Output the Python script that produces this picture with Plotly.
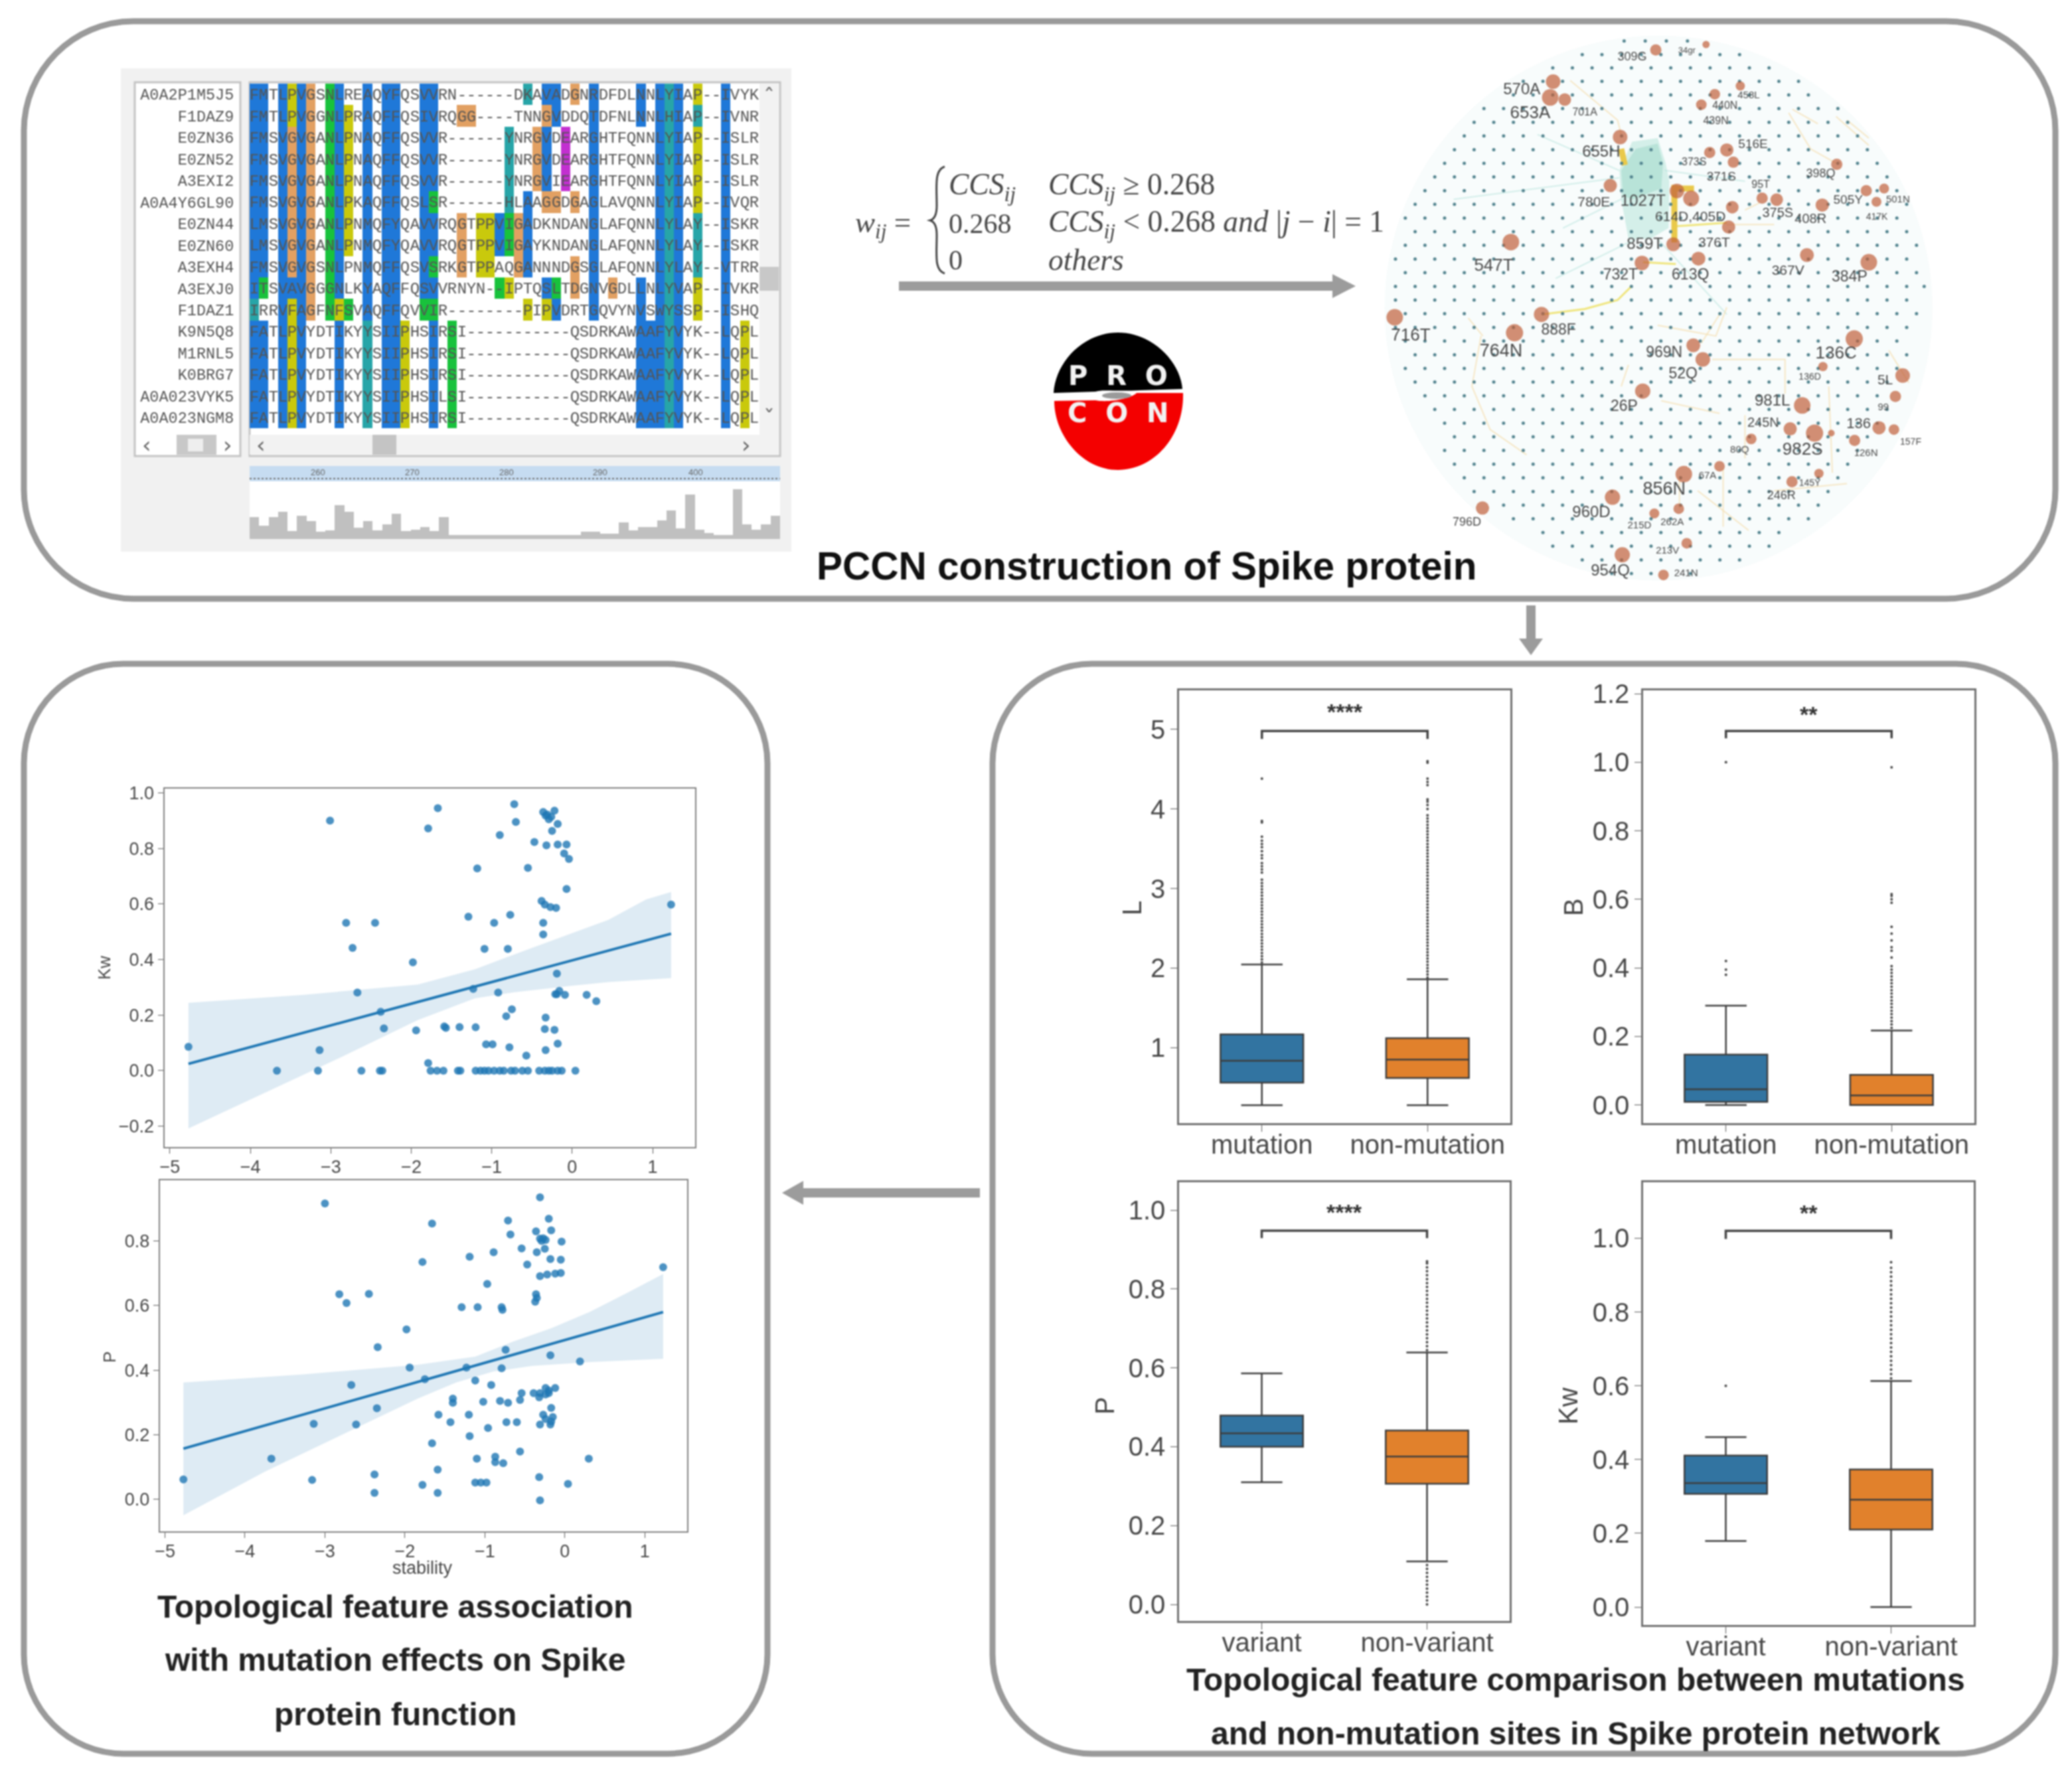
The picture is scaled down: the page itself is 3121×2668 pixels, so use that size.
import plotly.graph_objects as go

W, H = 3121, 2668
SANS = "Liberation Sans"
MONO = "Liberation Mono"
SERIF = "Liberation Serif"
INK = "#474747"

# ---------- regression scatter data ----------
kw_x = [-3.01,-1.67,-1.79,-.72,-.70,-.90,-.47,-.36,-.31,-.22,-.26,-.29,-.33,-.18,-.25,-.32,-.18,-.07,-.10,-.04,-1.18,-.55,-.07,-.38,-.34,-.27,-.20,1.23,-.77,-1.29,-2.81,-2.45,-.97,-.36,-.36,-2.73,-1.09,-.80,-1.98,-.19,-1.23,-2.67,-.92,-.19,-.16,-.09,-.21,.18,.30,-.75,-.82,-2.38,-.33,-2.34,-1.94,-1.59,-1.57,-1.40,-1.20,-.34,-.22,-1.07,-.99,-.78,-.18,-.33,-.57,-4.77,-3.14,-1.79,
        -3.67,-3.16,-2.62,-2.39,-2.36,-1.76,-1.68,-1.60,-1.42,-1.39,-1.20,-1.14,-1.09,-1.04,-.97,-.90,-.85,-.76,-.71,-.62,-.55,-.41,-.34,-.29,-.25,-.18,-.13,.04]
kw_y = [.90,.945,.872,.959,.895,.848,.823,.931,.922,.936,.914,.905,.918,.888,.863,.811,.814,.814,.782,.762,.728,.73,.654,.611,.598,.589,.586,.598,.561,.554,.532,.532,.532,.532,.49,.442,.438,.438,.39,.349,.294,.281,.281,.275,.287,.273,.275,.273,.25,.221,.196,.212,.191,.152,.145,.159,.154,.157,.156,.15,.147,.095,.095,.084,.097,.074,.054,.086,.074,.027,
        0,0,0,0,0,0,0,0,0,0,0,0,0,0,0,0,0,0,0,0,0,0,0,0,0,0,0,0]
kw_line_x = [-4.77, 1.23]
kw_line_y = [.0247, .493]
kw_up_x = [-4.77,-3.34,-1.92,-1.21,-.50,.45,.92,1.23]
kw_up_y = [.244,.273,.31,.365,.442,.543,.616,.643]
kw_lo_x = [-4.77,-3.82,-2.87,-1.92,-1.21,-.73,-.02,.45,1.23]
kw_lo_y = [-.208,-.079,.049,.182,.26,.282,.305,.319,.333]

p_x = [-3.0,-.31,-1.66,-.71,-.20,-.68,-.36,-.17,-.31,-.27,-.24,-.29,-.04,-.54,-.25,-.35,-.89,-1.19,-1.78,-.18,-.05,-.47,1.23,-.31,-.22,-.12,-.05,-.97,-2.82,-2.45,-2.73,-.36,-.35,-.37,-1.29,-1.09,-.79,-.78,-1.98,-2.34,-.74,-.18,.19,-1.94,-1.23,-.79,-1.75,-1.12,-2.67,-.92,-.24,-.12,-.2,-.39,-.31,-.24,-.32,-.2,-.54,-.56,-1.40,-1.40,-1.02,-.81,-.71,-.17,-2.35,-1.58,-1.20,-.27,-.15,-.24,-.17,-1.43,-.73,-.60,-.31,-.18,-3.14,-2.61,-.96,-1.19,-1.66,-.56,-1.10,-.87,-.87,-.77,-3.67,.30,-1.59,-2.38,-.32,-4.77,-3.16,-1.78,-1.12,-1.05,-.98,.04,-2.38,-1.59,-.31]
p_y = [.916,.935,.854,.863,.869,.82,.83,.833,.807,.808,.803,.80,.798,.777,.776,.765,.765,.751,.735,.744,.742,.727,.719,.691,.696,.699,.701,.667,.635,.636,.608,.635,.624,.612,.595,.595,.595,.587,.526,.471,.463,.446,.427,.408,.408,.406,.372,.368,.354,.354,.345,.345,.337,.329,.329,.325,.316,.329,.329,.308,.312,.299,.302,.305,.299,.283,.282,.262,.262,.262,.255,.249,.241,.239,.239,.239,.232,.232,.234,.232,.221,.196,.174,.148,.126,.132,.115,.112,.126,.126,.092,.077,.069,.062,.06,.045,.052,.052,.052,.048,.02,.02,-.003]
p_line_x = [-4.77, 1.23]
p_line_y = [.157, .58]
p_up_x = [-4.77,-3.27,-1.84,-1.12,-.65,-.17,.31,.78,1.23]
p_up_y = [.362,.387,.417,.442,.488,.53,.58,.639,.698]
p_lo_x = [-4.77,-3.75,-2.79,-1.84,-1.36,-.89,-.41,.31,1.23]
p_lo_y = [-.049,.086,.199,.312,.362,.396,.413,.425,.435]
stability_ticks = [-5,-4,-3,-2,-1,0,1]

# ---------- box data ----------
mut_cats = ["mutation", "non-mutation"]
var_cats = ["variant", "non-variant"]
L_stats = dict(q1=[.56,.62], med=[.836,.85], q3=[1.168,1.12], lo=[.277,.277], hi=[2.046,1.86])
B_stats = dict(q1=[.009,0.0], med=[.046,.028], q3=[.147,.088], lo=[0.0,0.0], hi=[.29,.217])
P_stats = dict(q1=[.40,.306], med=[.434,.375], q3=[.479,.441], lo=[.31,.109], hi=[.586,.639])
K_stats = dict(q1=[.307,.21], med=[.336,.291], q3=[.411,.373], lo=[.179,0.0], hi=[.461,.613])
L_fl_mut = [2.07,2.11,2.15,2.19,2.23,2.27,2.31,2.35,2.39,2.43,2.47,2.51,2.55,2.59,2.63,2.67,2.71,2.75,2.79,2.83,2.87,2.91,2.95,2.99,3.03,3.07,3.11,3.2,3.24,3.28,3.32,3.38,3.42,3.47,3.52,3.56,3.6,3.65,3.83,3.85,4.38]
L_fl_non = [1.88,1.92,1.96,2.0,2.04,2.08,2.12,2.16,2.2,2.24,2.28,2.32,2.36,2.4,2.44,2.48,2.52,2.56,2.6,2.64,2.68,2.72,2.76,2.8,2.84,2.88,2.92,2.96,3.0,3.04,3.08,3.12,3.16,3.2,3.24,3.28,3.32,3.36,3.4,3.44,3.48,3.52,3.56,3.6,3.64,3.68,3.72,3.76,3.8,3.84,3.88,3.92,4.0,4.05,4.09,4.12,4.3,4.34,4.38,4.58,4.6]
B_fl_mut = [.38,.395,.42,1.0]
B_fl_non = [.225,.235,.245,.255,.265,.275,.285,.295,.305,.315,.325,.335,.345,.355,.365,.375,.385,.395,.405,.43,.45,.46,.48,.5,.52,.59,.6,.61,.615,.985]
P_fl_non = [.645,.655,.665,.675,.685,.695,.705,.715,.725,.735,.745,.755,.765,.775,.785,.795,.805,.815,.825,.835,.845,.855,.865,.87,.10,.09,.08,.07,.06,.05,.04,.03,.02,.01,.0]
K_fl_mut = [.6]
K_fl_non = [.62,.632,.644,.656,.668,.68,.692,.704,.716,.728,.74,.752,.764,.776,.788,.8,.812,.824,.836,.848,.86,.872,.884,.896,.908,.92,.935]

# ---------- alignment data ----------
msa_names = ["A0A2P1M5J5","F1DAZ9","E0ZN36","E0ZN52","A3EXI2","A0A4Y6GL90","E0ZN44","E0ZN60","A3EXH4","A3EXJ0","F1DAZ1","K9N5Q8","M1RNL5","K0BRG7","A0A023VYK5","A0A023NGM8"]
msa_seqs = [
"FMTLPVGSNLREAQYFQSVVRN------DKAVADGNRDFDLNNLYIAP--IVYK",
"FMTLPVGGNLPRAQFFQSIVRQGG----TNNGVDDQTDFNLNNLHIAP--IVNR",
"FMSVGVGANLPNAQFFQSVVR------YNRGVDEARGHTFQNNLYIAP--ISLR",
"FMSVGVGANLPNAQFFQSVVR------YNRGVDEARGHTFQNNLYIAP--ISLR",
"FMSVGVGANLPNAQFFQSVVR------YNRGVIEARGHTFQNNLYIAP--ISLR",
"FMSVGVGANLPKAQFFQSLSR------HLAAGGDGAGLAVQNNLYIAP--IVQR",
"LMSVGVGANLPNMQFYQAVVRQGTPPVIGADKNDANGLAFQNNLYLAY--ISKR",
"LMSVGVGANLPNMQFYQAVVRQGTPPVIGAYKNDANGLAFQNNLYLAY--ISKR",
"FMSVGVGSNLPNMQFFQSVSRKGTPPAQGANNNDGSGLAFQNNLYLAY--VTRR",
"ITSVAVGGGNLKYAQFFQSVVRNYN--IPTQSLTDGNVGDLLNLYVAP--IVKR",
"IRRVFAGFNFSVAQFFQVVIR--------PIPVDRTGQVYNVSWYSSP--ISHQ",
"FATLPVYDTIKYYSIIPHSIRSI-----------QSDRKAWAAFYVYK--LQPL",
"FATLPVYDTIKYYSIIPHSIRSI-----------QSDRKAWAAFYVYK--LQPL",
"FATLPVYDTIKYYSIIPHSIRSI-----------QSDRKAWAAFYVYK--LQPL",
"FATLPVYDTIKYYSIIPHSILSI-----------QSDRKAWAAFYVYK--LQPL",
"FATLPVYDTIKYYSIIPHSIRSI-----------QSDRKAWAAFYVYK--LQPL"]
# residue colour classes: 1 blue, 2 orange, 3 yellow, 4 green, 5 teal, 6 magenta
msa_blue = [[0,1,3,5,9,12,14,15,18,19,31,32,36,41,43,45,50],[0,1,3,5,9,12,14,15,18,19,32,36,41,43,45,50],
 [0,1,3,5,9,12,14,15,18,19,31,36,43,45,50],[0,1,3,5,9,12,14,15,18,19,31,36,43,45,50],[0,1,3,5,9,12,14,15,18,19,31,36,43,45,50],
 [0,1,3,5,9,12,14,15,18,29,36,43,45,50],[0,1,3,5,9,12,14,15,18,19,26,29,36,43,45,50],[0,1,3,5,9,12,14,15,18,19,26,29,36,43,45,50],
 [0,1,3,5,9,12,14,15,18,29,36,43,45,50],[0,3,4,5,9,12,14,15,18,19,31,36,41,43,45,50],[3,5,12,14,15,32,36,41,43,45,50],
 [0,1,3,5,9,14,15,19,41,42,43,45,50],[0,1,3,5,9,14,15,19,41,42,43,45,50],[0,1,3,5,9,14,15,19,41,42,43,45,50],[0,1,3,5,9,14,15,19,41,42,43,45,50],[0,1,3,5,9,14,15,19,41,42,43,45,50]]
msa_orange = [[6,34],[6,22,23,31],[4,6,30],[4,6,30],[4,6,30],[4,6,31,32,34],[4,6,22,28],[4,6,22,28],[4,6,22,28,34],[6,34,38],[6],[],[],[],[],[]]
msa_yellow = [[4,47],[4,10],[10,47],[10,47],[10,47],[10,47],[10,24,25],[10,24,25],[24,25],[27,47],[4,9,29,31,47],[4,16,52],[4,16,52],[4,16,52],[4,16,52],[4,16,52]]
msa_green = [[8],[8],[8],[8],[8],[8,19],[8,27],[8,27],[8,19],[1,8,26,32],[8,10,18,19],[21],[21],[21],[21],[21]]
msa_teal = [[29,44],[44,47],[27,44],[27,44],[27,44],[27,44],[44,47],[44,47],[44,47],[44],[0,44],[12,44],[12,44],[12,44],[12,44],[12,44]]
msa_magenta = [[],[],[33],[33],[33],[],[],[],[],[],[],[],[],[],[],[]]
msa_palette = ["#ffffff","#1f78d8","#e2a062","#c9c90c","#18c23c","#27a5a8","#c22fd0"]
ruler_labels = ["260","270","280","290","400"]
conservation = [50,25,50,65,10,55,40,8,12,85,65,20,40,12,30,60,10,15,22,10,50,0,0,0,0,0,0,0,0,0,0,0,0,0,0,8,8,3,3,35,12,22,22,42,70,18,115,15,5,0,0,130,30,15,30,55]

# ---------- network data (layout units) ----------
hub_x = [755,893,473,465,505,987,917,880,657,903,950,968,1252,630,813,852,965,955,1047,1087,1212,1333,1382,1361,803,872,717,357,1170,1340,38,441,367,858,884,1300,1214,1433,1413,719,1157,1124,1191,1017,1368,1409,1301,1237,930,832,1203,1129,636,279,818,751,840,663,776]
hub_y = [65,50,153,197,203,165,188,217,307,350,343,377,383,442,457,478,502,557,477,481,496,456,450,487,605,645,657,599,635,655,808,800,851,886,925,868,945,970,1028,1013,1053,1118,1130,1146,1115,1120,1150,1130,1222,1244,1242,1265,1308,1338,1340,1353,1436,1468,1524]
hub_size = [17,11,22,25,19,14,16,16,22,17,20,17,17,20,22,24,19,20,17,19,20,17,15,15,21,21,22,25,21,25,25,23,26,21,22,26,14,22,17,23,25,20,26,16,20,16,17,10,16,25,14,17,23,20,16,15,16,23,16]
lab_text = ["309G","34gr","570A","653A","701A","458L","440N","439N","655H","516E","373S","371S","398Q","780E","1027T","614D,405D","95T","375S","408R","505Y","501N","417K","859T","376T","613Q","732T","547T","367V","384P","716T","888F","764N","969N","52Q","136C","136D","5L","99","26P","981L","245N","982S","80Q","136","157F","126N","67A","856N","145Y","246R","960D","796D","262A","215D","213V","954Q","241N"]
lab_x = [690,840,387,410,560,1010,945,920,605,1022,860,935,1208,585,720,850,1043,1090,1180,1283,1420,1362,725,915,850,658,310,1118,1287,82,488,330,778,830,1250,1178,1385,1380,668,1075,1050,1158,985,1312,1455,1332,897,778,1178,1100,578,236,800,710,787,630,838]
lab_y = [85,68,177,243,240,193,222,263,350,328,378,420,410,490,487,530,440,520,537,483,481,530,607,603,692,692,667,680,697,860,845,905,908,968,910,975,985,1060,1057,1043,1103,1178,1177,1106,1155,1187,1250,1288,1270,1305,1352,1378,1378,1387,1457,1515,1520]
lab_size = [18,13,24,26,16,15,16,16,24,19,16,19,18,21,24,21,16,20,20,19,15,14,24,21,23,23,26,21,23,26,23,27,23,23,26,14,21,15,23,24,20,26,15,22,14,15,15,27,14,18,24,18,15,15,15,24,15]
dot_rows = {
40:[668,726,784,842],
78:[553,607,661,715,769,823,877,931,985],
115:[472,526,580,634,688,742,796,850,904,958,1012,1066],
152:[391,445,499,553,607,661,715,769,823,877,931,985,1039,1093,1147],
190:[364,418,472,526,580,634,688,742,796,850,904,958,1012,1066,1120,1174],
228:[283,337,391,445,499,553,607,661,715,769,823,877,931,985,1039,1093,1147,1201,1255],
266:[256,310,364,418,472,526,580,634,688,742,796,850,904,958,1012,1066,1120,1174,1228,1282],
304:[229,283,337,391,445,499,553,607,661,715,769,823,877,931,985,1039,1093,1147,1201,1255,1309],
342:[202,256,310,364,418,472,526,580,634,688,742,796,850,904,958,1012,1066,1120,1174,1228,1282,1336],
380:[175,229,283,337,391,445,499,553,607,661,715,769,823,877,931,985,1039,1093,1147,1201,1255,1309,1363],
418:[148,202,256,310,364,418,472,526,580,634,688,742,796,850,904,958,1012,1066,1120,1174,1228,1282,1336,1390],
456:[121,175,229,283,337,391,445,499,553,607,661,715,769,823,877,931,985,1039,1093,1147,1201,1255,1309,1363,1417],
494:[94,148,202,256,310,364,418,472,526,580,634,688,742,796,850,904,958,1012,1066,1120,1174,1228,1282,1336,1390,1444],
532:[67,121,175,229,283,337,391,445,499,553,607,661,715,769,823,877,931,985,1039,1093,1147,1201,1255,1309,1363,1417],
570:[94,148,202,256,310,364,418,472,526,580,634,688,742,796,850,904,958,1012,1066,1120,1174,1228,1282,1336,1390,1444],
608:[67,121,175,229,283,337,391,445,499,553,607,661,715,769,823,877,931,985,1039,1093,1147,1201,1255,1309,1363,1417,1471],
646:[40,94,148,202,256,310,364,418,472,526,580,634,688,742,796,850,904,958,1012,1066,1120,1174,1228,1282,1336,1390,1444],
684:[67,121,175,229,283,337,391,445,499,553,607,661,715,769,823,877,931,985,1039,1093,1147,1201,1255,1309,1363,1417,1471],
722:[40,94,148,202,256,310,364,418,472,526,580,634,688,742,796,850,904,958,1012,1066,1120,1174,1228,1282,1336,1390,1444,1492],
760:[40,94,148,202,256,310,364,418,472,526,580,634,688,742,796,850,904,958,1012,1066,1120,1174,1228,1282,1336,1390,1444],
798:[67,121,175,229,283,337,391,445,499,553,607,661,715,769,823,877,931,985,1039,1093,1147,1201,1255,1309,1363,1417,1471],
836:[40,94,148,202,256,310,364,418,472,526,580,634,688,742,796,850,904,958,1012,1066,1120,1174,1228,1282,1336,1390,1444],
874:[67,121,175,229,283,337,391,445,499,553,607,661,715,769,823,877,931,985,1039,1093,1147,1201,1255,1309,1363,1417],
912:[94,148,202,256,310,364,418,472,526,580,634,688,742,796,850,904,958,1012,1066,1120,1174,1228,1282,1336,1390,1444],
950:[67,121,175,229,283,337,391,445,499,553,607,661,715,769,823,877,931,985,1039,1093,1147,1201,1255,1309,1363,1417],
988:[94,148,202,256,310,364,418,472,526,580,634,688,742,796,850,904,958,1012,1066,1120,1174,1228,1282,1336,1390],
1026:[121,175,229,283,337,391,445,499,553,607,661,715,769,823,877,931,985,1039,1093,1147,1201,1255,1309,1363],
1064:[148,202,256,310,364,418,472,526,580,634,688,742,796,850,904,958,1012,1066,1120,1174,1228,1282,1336,1390],
1102:[175,229,283,337,391,445,499,553,607,661,715,769,823,877,931,985,1039,1093,1147,1201,1255,1309,1363],
1140:[202,256,310,364,418,472,526,580,634,688,742,796,850,904,958,1012,1066,1120,1174,1228,1282,1336],
1178:[175,229,283,337,391,445,499,553,607,661,715,769,823,877,931,985,1039,1093,1147,1201,1255,1309],
1216:[202,256,310,364,418,472,526,580,634,688,742,796,850,904,958,1012,1066,1120,1174,1228,1282],
1254:[229,283,337,391,445,499,553,607,661,715,769,823,877,931,985,1039,1093,1147,1201,1255],
1292:[256,310,364,418,472,526,580,634,688,742,796,850,904,958,1012,1066,1120,1174,1228],
1330:[337,391,445,499,553,607,661,715,769,823,877,931,985,1039,1093,1147,1201],
1368:[364,418,472,526,580,634,688,742,796,850,904,958,1012,1066,1120,1174],
1406:[445,499,553,607,661,715,769,823,877,931,985,1039,1093],
1444:[472,526,580,634,688,742,796,850,904,958,1012,1066],
1482:[553,607,661,715,769,823,877,931,985],
1520:[634,688,742,850],
}
edge_pale_x = [520,650,660,None,1120,1180,1250,None,1250,1340,None,930,880,None,910,1110,1110,None,275,250,300,400,None,680,660,None,770,930,None,1000,1000,None,940,940,None,820,820,None,1230,1240,None,240,280,None,950,1080,None,1000,1040,None,1130,1200,None,1280,1340,None,870,1010,None,1080,1280,None,760,920,950,None,1395,1450]
edge_pale_y = [150,260,300,None,240,340,380,None,250,330,None,800,880,None,925,925,1020,None,860,1000,1120,1190,None,940,1000,None,1040,1075,None,1080,1200,None,1230,1390,None,1340,1250,None,1000,1240,None,810,860,None,550,550,None,510,490,None,230,270,None,260,310,None,1290,1400,None,1290,1270,None,830,860,780,None,900,990]
edge_teal_x = [655,430,None,655,200,None,660,500,None,700,480,None,780,1000,None,760,950]
edge_teal_y = [400,300,None,420,480,None,480,560,None,590,700,None,400,430,None,590,800]
edge_gold_x = [441,560,650,690,None,720,810,None,810,950]
edge_gold_y = [800,785,760,720,None,655,660,None,555,545]
blob_x = [655,690,760,782,792,790,740,680,660,655]
blob_y = [400,320,310,380,430,560,590,590,480,400]
blob_core_x = [660,700,760,775,770,690,665,660]
blob_core_y = [400,340,325,380,450,480,470,400]
thick_x = [806,806,None,660,670,None,800,860]
thick_y = [440,600,None,340,385,None,450,450]


def fx(x): return x / W
def fy(y): return 1 - y / H
def dom_x(a, b): return [a / W, b / W]
def dom_y(a, b): return [1 - b / H, 1 - a / H]

shapes, annots = [], []


def path_shape(cmds, fill=None, line=None, lw=0, layer="below"):
    out = []
    for c in cmds:
        if isinstance(c, str):
            out.append(c)
        else:
            out.append(f"{fx(c[0]):.5f},{fy(c[1]):.5f}")
    s = dict(type="path", xref="paper", yref="paper", path=" ".join(out), layer=layer,
             line=dict(width=lw, color=line or "rgba(0,0,0,0)"))
    if fill:
        s["fillcolor"] = fill
    shapes.append(s)


def rrect(x0, y0, x1, y1, r, line, lw, fill=None, layer="below"):
    k = r * 0.45
    path_shape(["M", (x0 + r, y0), "L", (x1 - r, y0), "C", (x1 - k, y0), (x1, y0 + k), (x1, y0 + r),
                "L", (x1, y1 - r), "C", (x1, y1 - k), (x1 - k, y1), (x1 - r, y1),
                "L", (x0 + r, y1), "C", (x0 + k, y1), (x0, y1 - k), (x0, y1 - r),
                "L", (x0, y0 + r), "C", (x0, y0 + k), (x0 + k, y0), (x0 + r, y0), "Z"], fill=fill, line=line, lw=lw, layer=layer)


def rect(x0, y0, x1, y1, fill, line=None, lw=0, layer="below"):
    shapes.append(dict(type="rect", xref="paper", yref="paper", x0=fx(x0), x1=fx(x1), y0=fy(y0), y1=fy(y1),
                       fillcolor=fill, line=dict(width=lw, color=line or "rgba(0,0,0,0)"), layer=layer))


def poly(pts, fill):
    cmds = ["M", pts[0]]
    for p in pts[1:]:
        cmds += ["L", p]
    path_shape(cmds + ["Z"], fill=fill)


def text(t, x, y, size, color=INK, anchor="center", angle=0, family=SANS):
    annots.append(dict(text=t, x=fx(x), y=fy(y), xref="paper", yref="paper", xanchor=anchor, yanchor="middle",
                       showarrow=False, textangle=angle, font=dict(size=size, color=color, family=family)))


fig = go.Figure()
FRAME = "#9a9a9a"
ARROW = "#9c9c9c"

# panel frames
rrect(36, 32, 3096, 902, 165, FRAME, 9)
rrect(36, 1000, 1156, 2642, 150, FRAME, 9)
rrect(1495, 1000, 3096, 2642, 150, FRAME, 9)

# arrows
poly([(1354, 424), (2007, 424), (2007, 413), (2042, 431), (2007, 449), (2007, 438), (1354, 438)], ARROW)
poly([(2299, 912), (2313, 912), (2313, 962), (2324, 962), (2306, 987), (2288, 962), (2299, 962)], ARROW)
poly([(1476, 1790), (1476, 1804), (1210, 1804), (1210, 1815), (1178, 1797), (1210, 1779), (1210, 1790)], ARROW)

# alignment window furniture
rect(182, 103, 1192, 831, "#f1f1f1")
rect(203, 124, 362, 687, "#ffffff", "#c4c4c4", 3)
rect(376, 124, 1175, 687, "#ffffff", "#c4c4c4", 3)
rect(376, 655, 1173, 685, "#f2f2f2")
rect(1144, 126, 1173, 655, "#f2f2f2")
rect(561, 655, 597, 685, "#c4c4c4")
rect(1144, 402, 1173, 438, "#c8c8c8")
rect(266, 655, 326, 685, "#c8c8c8")
rect(283, 661, 306, 680, "#eeeeee")
rect(376, 702, 1175, 725, "#c6dcf1")
rect(376, 725, 1175, 812, "#ffffff")
shapes.append(dict(type="line", xref="paper", yref="paper", x0=fx(376), x1=fx(1175), y0=fy(721), y1=fy(721),
                   line=dict(color="#707070", width=2, dash="dot"), layer="below"))
for lab, px_ in zip(ruler_labels, [479, 621, 763, 904, 1048]):
    text(lab, px_, 711, 13, "#666666")
for ch, px_, py_ in [("‹", 221, 670), ("›", 343, 670), ("‹", 393, 670), ("›", 1124, 670), ("ˆ", 1158, 146), ("ˇ", 1158, 630)]:
    text(ch, px_, py_, 34, "#666666", family="DejaVu Sans")

# formula
text("<i>w<sub>ij</sub></i> =", 1286, 338, 45, INK, "left", family=SERIF)
path_shape(["M", (1423, 251), "C", (1407, 256), (1411, 280), (1411, 310), "C", (1411, 322), (1408, 330), (1401, 332),
            "C", (1408, 334), (1411, 342), (1411, 354), "C", (1411, 384), (1407, 407), (1423, 412)], line=INK, lw=3)
text("<i>CCS<sub>ij</sub></i>", 1427, 281, 45.5, INK, "left", family=SERIF)
text("<i>CCS<sub>ij</sub></i> ≥ 0.268", 1577, 281, 45.5, INK, "left", family=SERIF)
text("0.268", 1427, 337, 42, INK, "left", family=SERIF)
text("<i>CCS<sub>ij</sub></i> &lt; 0.268 <i>and</i> |<i>j</i> − <i>i</i>| = 1", 1577, 337, 45.5, INK, "left", family=SERIF)
text("0", 1427, 392, 42, INK, "left", family=SERIF)
text("<i>others</i>", 1577, 392, 45.5, INK, "left", family=SERIF)

# logo
path_shape(["M", (1587, 592), "C", (1590, 545), (1632, 501), (1684, 501), "C", (1736, 501), (1778, 545), (1781, 586),
            "L", (1716, 588), "C", (1680, 590), (1660, 586), (1650, 590), "Z"], fill="#000000")
path_shape(["M", (1588, 604), "L", (1650, 603), "C", (1670, 607), (1705, 600), (1712, 592), "L", (1782, 592),
            "C", (1784, 655), (1740, 708), (1684, 708), "C", (1630, 708), (1588, 655), (1588, 604), "Z"], fill="#f40000")
shapes.append(dict(type="circle", xref="paper", yref="paper", x0=fx(1660), x1=fx(1704), y0=fy(591), y1=fy(601),
                   fillcolor="#9a9a9a", line=dict(width=0), layer="below"))
text("<b>P\u00a0\u00a0R\u00a0\u00a0O</b>", 1684, 566, 40, "#f2f2f2", family="DejaVu Sans")
text("<b>C\u00a0\u00a0O\u00a0\u00a0N</b>", 1684, 622, 40, "#f2f2f2", family="DejaVu Sans")

# bold captions
text("<b>PCCN construction of Spike protein</b>", 1727, 852, 58.5, "#111111")
text("<b>Topological feature association</b>", 595, 2420, 48, "#222222")
text("<b>with mutation effects on Spike</b>", 595, 2500, 48, "#222222")
text("<b>protein function</b>", 595, 2582, 48, "#222222")
text("<b>Topological feature comparison between mutations</b>", 2373, 2530, 48, "#222222")
text("<b>and non-mutation sites in Spike protein network</b>", 2373, 2611, 48, "#222222")

# axis titles
text("Kw", 157, 1458, 26, INK, angle=-90)
text("P", 165, 2045, 26, INK, angle=-90)
text("stability", 636, 2362, 27, INK)
text("L", 1705, 1368, 40, INK, angle=-90)
text("B", 2370, 1367, 40, INK, angle=-90)
text("P", 1664, 2117, 40, INK, angle=-90)
text("Kw", 2362, 2118, 40, INK, angle=-90)


def scat_axes(n, xd, yd, xr, yr, yticks):
    line = dict(showline=True, mirror=True, linecolor="#808080", linewidth=2, showgrid=False, zeroline=False,
                ticks="outside", ticklen=8, tickcolor="#555555", tickfont=dict(size=27, color=INK, family=SANS))
    suffix = "" if n == 1 else str(n)
    return {f"xaxis{suffix}": dict(domain=dom_x(*xd), range=xr, anchor=f"y{suffix}", tickvals=stability_ticks, ticklabelstandoff=-3, **line),
            f"yaxis{suffix}": dict(domain=dom_y(*yd), range=yr, anchor=f"x{suffix}", tickvals=yticks, tickformat=".1f", **line)}


def add_scatter(xa, ya, xs, ys, lx, ly, ux, uy, lox, loy):
    fig.add_trace(go.Scatter(x=ux + lox[::-1], y=uy + loy[::-1], mode="lines", fill="toself", xaxis=xa, yaxis=ya,
                             fillcolor="rgba(31,119,180,0.15)", line=dict(width=0), showlegend=False))
    fig.add_trace(go.Scatter(x=xs, y=ys, mode="markers", xaxis=xa, yaxis=ya, showlegend=False,
                             marker=dict(size=12, color="rgba(31,119,180,0.8)", line=dict(width=0))))
    fig.add_trace(go.Scatter(x=lx, y=ly, mode="lines", xaxis=xa, yaxis=ya, showlegend=False,
                             line=dict(color="#1f77b4", width=4)))


add_scatter("x", "y", kw_x, kw_y, kw_line_x, kw_line_y, kw_up_x, kw_up_y, kw_lo_x, kw_lo_y)
add_scatter("x2", "y2", p_x, p_y, p_line_x, p_line_y, p_up_x, p_up_y, p_lo_x, p_lo_y)

BOX_COL = ["#3274a1", "#e1812c"]


def add_box(n, cats, st, fl0, fl1, bracket, star_y, stars):
    xa, ya = f"x{n}", f"y{n}"
    for i in (0, 1):
        fig.add_trace(go.Box(x=[cats[i]], q1=[st["q1"][i]], median=[st["med"][i]], q3=[st["q3"][i]],
                             lowerfence=[st["lo"][i]], upperfence=[st["hi"][i]], width=0.5, whiskerwidth=0.5,
                             boxpoints=False, fillcolor=BOX_COL[i], line=dict(color="#3d3d3d", width=2.5),
                             xaxis=xa, yaxis=ya, showlegend=False))
    for i, fl in enumerate((fl0, fl1)):
        if fl:
            fig.add_trace(go.Scatter(x=[cats[i]] * len(fl), y=fl, mode="markers", xaxis=xa, yaxis=ya, showlegend=False,
                                     marker=dict(size=4, color="#4a4a4a")))
    fig.add_trace(go.Scatter(x=[cats[0], cats[0], cats[1], cats[1]], y=[bracket[0], bracket[1], bracket[1], bracket[0]],
                             mode="lines", xaxis=xa, yaxis=ya, showlegend=False, line=dict(color="#444444", width=3.5)))
    annots.append(dict(text=stars, x=0.5, y=star_y, xref=xa, yref=ya, showarrow=False, yanchor="middle",
                       font=dict(size=34, color="#333333", family=SANS)))


add_box(3, mut_cats, L_stats, L_fl_mut, L_fl_non, (4.88, 4.98), 5.22, "<b>****</b>")
add_box(4, mut_cats, B_stats, B_fl_mut, B_fl_non, (1.07, 1.091), 1.14, "<b>**</b>")
add_box(5, var_cats, P_stats, [], P_fl_non, (.929, .948), .995, "<b>****</b>")
add_box(6, var_cats, K_stats, K_fl_mut, K_fl_non, (.998, 1.02), 1.07, "<b>**</b>")


def box_axes(n, xd, yd, yr, yt):
    line = dict(showline=True, mirror=True, linecolor="#707070", linewidth=2.5, showgrid=False, zeroline=False,
                ticks="outside", ticklen=10, tickcolor="#555555", tickfont=dict(size=40, color=INK, family=SANS))
    return {f"xaxis{n}": dict(domain=dom_x(*xd), range=[-0.5, 1.5], type="category", anchor=f"y{n}", ticklabelstandoff=-15, **line),
            f"yaxis{n}": dict(domain=dom_y(*yd), range=yr, anchor=f"x{n}", tickvals=yt, **line)}


# alignment
classes = [msa_blue, msa_orange, msa_yellow, msa_green, msa_teal, msa_magenta]
msa_z = [[0] * 54 for _ in msa_seqs]
for code, table in enumerate(classes, start=1):
    for r, cols in enumerate(table):
        for c in cols:
            msa_z[r][c] = code
steps = []
for i, c in enumerate(msa_palette):
    steps += [[i / 7, c], [(i + 1) / 7, c]]
fig.add_trace(go.Heatmap(z=msa_z, text=[list(s) for s in msa_seqs], texttemplate="%{text}",
                         textfont=dict(family=MONO, size=24, color="#555555"), colorscale=steps, zmin=-0.5, zmax=6.5,
                         showscale=False, hoverongaps=False, xaxis="x7", yaxis="y7"))
fig.add_trace(go.Bar(x=list(range(len(conservation))), y=[v + 12 for v in conservation], marker=dict(color="#c0c0c0", line=dict(width=0)),
                     xaxis="x8", yaxis="y8", showlegend=False))

# network
NET = dict(xaxis="x9", yaxis="y9", showlegend=False, hoverinfo="skip")
shapes.append(dict(type="circle", xref="x9", yref="y9", x0=10, x1=1515, y0=25, y1=1540, fillcolor="#f8fcfc",
                   line=dict(width=0), layer="below"))
fig.add_trace(go.Scatter(x=edge_teal_x, y=edge_teal_y, mode="lines", line=dict(color="rgba(185,228,222,0.6)", width=2), **NET))
fig.add_trace(go.Scatter(x=blob_x, y=blob_y, mode="lines", fill="toself", fillcolor="rgba(176,226,214,0.5)", line=dict(width=0), **NET))
fig.add_trace(go.Scatter(x=blob_core_x, y=blob_core_y, mode="lines", fill="toself", fillcolor="rgba(150,212,196,0.45)", line=dict(width=0), **NET))
fig.add_trace(go.Scatter(x=edge_pale_x, y=edge_pale_y, mode="lines", line=dict(color="rgba(245,222,175,0.7)", width=2), **NET))
fig.add_trace(go.Scatter(x=edge_gold_x, y=edge_gold_y, mode="lines", line=dict(color="rgba(238,226,110,0.9)", width=3), **NET))
fig.add_trace(go.Scatter(x=thick_x, y=thick_y, mode="lines", line=dict(color="#e9c94a", width=9), **NET))
dot_x, dot_y = [], []
for y_, xs_ in dot_rows.items():
    dot_x += xs_
    dot_y += [y_] * len(xs_)
fig.add_trace(go.Scatter(x=dot_x, y=dot_y, mode="markers", marker=dict(size=5, color="#53848f"), **NET))
fig.add_trace(go.Scatter(x=hub_x, y=hub_y, mode="markers", marker=dict(size=hub_size, color="#c0603a", line=dict(width=0)), **NET))
for s_ in sorted(set(lab_size)):
    idx = [i for i, v in enumerate(lab_size) if v == s_]
    fig.add_trace(go.Scatter(x=[lab_x[i] for i in idx], y=[lab_y[i] for i in idx], text=[lab_text[i] for i in idx],
                             mode="text", textfont=dict(size=s_, color="#484848", family=SANS), **NET))

layout = dict(width=W, height=H, margin=dict(l=0, r=0, t=0, b=0, pad=0, autoexpand=False), paper_bgcolor="white", plot_bgcolor="rgba(0,0,0,0)",
              showlegend=False, boxmode="overlay", bargap=0, shapes=shapes, annotations=annots, font=dict(family=SANS))
layout.update(scat_axes(1, (247.5, 1047), (1187.5, 1728), [-5.07, 1.528], [-.275, 1.0165], [-.2, 0, .2, .4, .6, .8, 1.0]))
layout.update(scat_axes(2, (240.6, 1035), (1778, 2307), [-5.066, 1.53], [-.099, .988], [0, .2, .4, .6, .8]))
layout.update(box_axes(3, (1776, 2275), (1040, 1692), [.052, 5.49], [1, 2, 3, 4, 5]))
layout.update(box_axes(4, (2475, 2974), (1040, 1692), [-.053, 1.2097], [0, .2, .4, .6, .8, 1.0, 1.2]))
layout.update(box_axes(5, (1776, 2274), (1781, 2442), [-.042, 1.0707], [0, .2, .4, .6, .8, 1.0]))
layout.update(box_axes(6, (2475, 2973), (1781, 2448), [-.0486, 1.152], [0, .2, .4, .6, .8, 1.0]))
for n in (4, 5, 6):
    layout[f"yaxis{n}"]["tickformat"] = ".1f"
layout["xaxis7"] = dict(domain=dom_x(376, 1142.8), range=[-.5, 53.5], anchor="y7", visible=False)
layout["yaxis7"] = dict(domain=dom_y(126, 645.2), range=[15.5, -.5], anchor="x7", showline=False, showgrid=False, zeroline=False,
                        tickmode="array", tickvals=list(range(16)), ticktext=msa_names, ticks="outside", ticklen=18,
                        tickcolor="rgba(0,0,0,0)", tickfont=dict(family=MONO, size=23.5, color="#555555"))
layout["xaxis8"] = dict(domain=dom_x(376, 1175), range=[-.5, 55.5], anchor="y8", visible=False)
layout["yaxis8"] = dict(domain=dom_y(725, 812), range=[0, 165], anchor="x8", visible=False)
layout["xaxis9"] = dict(domain=dom_x(2080, 2940), range=[0, 1568], anchor="y9", visible=False)
layout["yaxis9"] = dict(domain=dom_y(40, 890), range=[1568, 0], anchor="x9", visible=False)
fig.update_layout(**layout)

fig.write_html("out.html", config={"displayModeBar": False},
               post_script="document.body.style.margin='0';document.querySelector('.plotly-graph-div').style.filter='blur(0.9px)';")
